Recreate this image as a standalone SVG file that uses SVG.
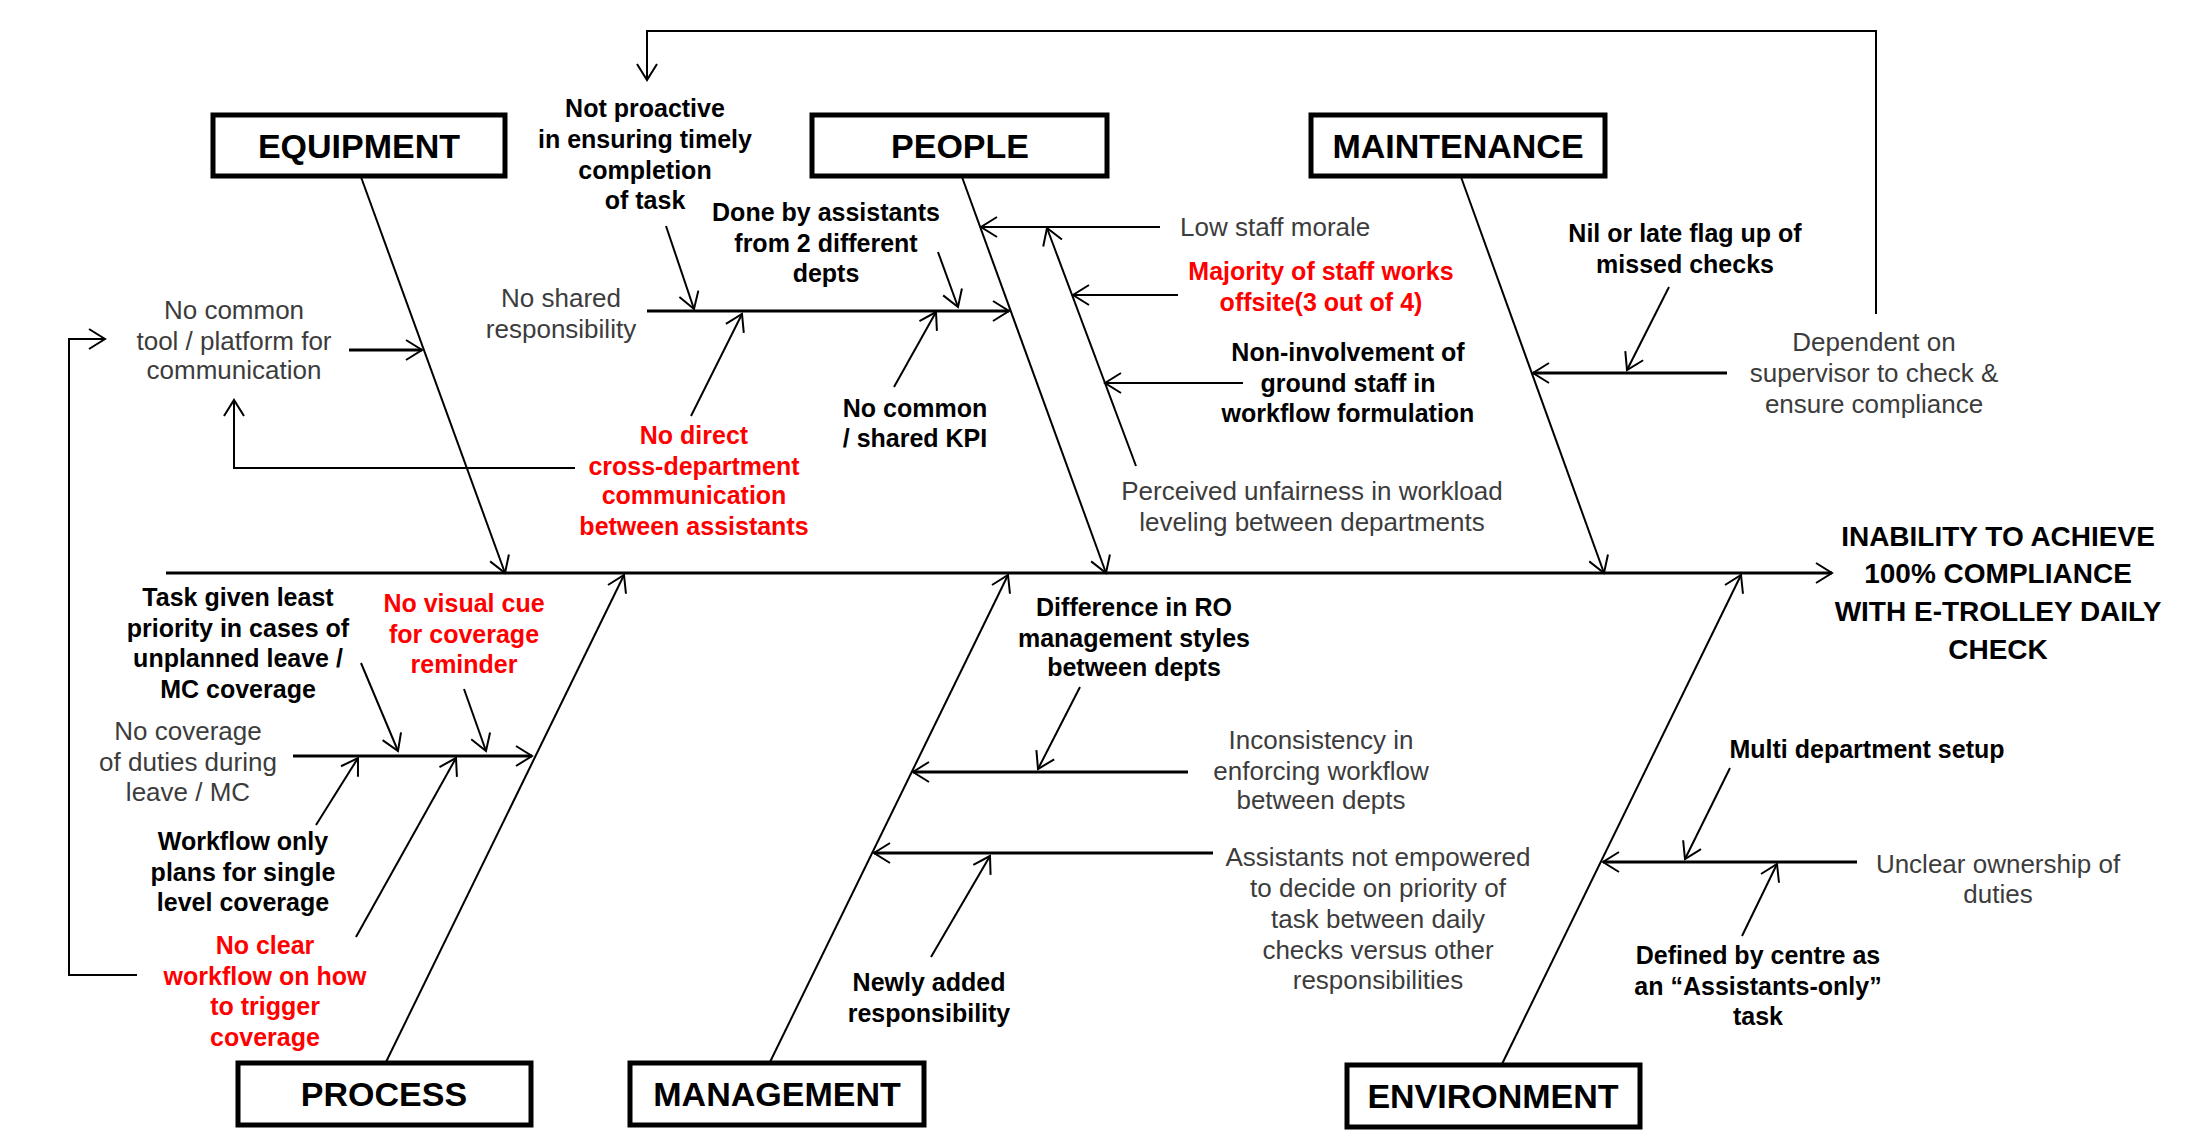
<svg xmlns="http://www.w3.org/2000/svg" width="2192" height="1131" viewBox="0 0 2192 1131">
<style>
.bx{fill:#fff;stroke:#000;stroke-width:5}
.bl{font-family:"Liberation Sans",Arial,sans-serif;font-weight:bold;font-size:34px;fill:#000;text-anchor:middle}
.b{font-family:"Liberation Sans",Arial,sans-serif;font-weight:bold;font-size:25px;fill:#000;text-anchor:middle}
.r{font-family:"Liberation Sans",Arial,sans-serif;font-weight:bold;font-size:25px;fill:#ff0000;text-anchor:middle}
.g{font-family:"Liberation Sans",Arial,sans-serif;font-size:26px;fill:#3c3c3c;text-anchor:middle}
.t{font-family:"Liberation Sans",Arial,sans-serif;font-weight:bold;font-size:28px;fill:#000;text-anchor:middle}
.ln{fill:none;stroke:#000;stroke-width:2}
.th{fill:none;stroke:#000;stroke-width:3}
</style>
<defs>
<marker id="ah" viewBox="0 0 19 22" refX="17" refY="11" markerWidth="19" markerHeight="22" markerUnits="userSpaceOnUse" orient="auto">
<path d="M1,1 L17,11 L1,21" fill="none" stroke="#000" stroke-width="2"/>
</marker>
</defs>
<rect width="2192" height="1131" fill="#fff"/>
<g id="connectors">
<path class="th" d="M166,573 H1832" marker-end="url(#ah)"/>
<path class="ln" d="M361,177 L505,573" marker-end="url(#ah)"/>
<path class="ln" d="M962,177 L1106,573" marker-end="url(#ah)"/>
<path class="ln" d="M1461,177 L1604,573" marker-end="url(#ah)"/>
<path class="ln" d="M386,1062 L624,575" marker-end="url(#ah)"/>
<path class="ln" d="M770,1062 L1008,575" marker-end="url(#ah)"/>
<path class="ln" d="M1502,1064 L1741,575" marker-end="url(#ah)"/>
<path class="th" d="M349,350 H422" marker-end="url(#ah)"/>
<path class="ln" d="M137,975 H69 V339 H105" marker-end="url(#ah)"/>
<path class="ln" d="M575,468 H234 V400" marker-end="url(#ah)"/>
<path class="th" d="M647,311 H1009" marker-end="url(#ah)"/>
<path class="ln" d="M666,226 L694,309" marker-end="url(#ah)"/>
<path class="ln" d="M938,252 L958,307" marker-end="url(#ah)"/>
<path class="ln" d="M691,416 L742,314" marker-end="url(#ah)"/>
<path class="ln" d="M894,387 L936,312" marker-end="url(#ah)"/>
<path class="ln" d="M1160,227 H981" marker-end="url(#ah)"/>
<path class="ln" d="M1136,466 L1047,228" marker-end="url(#ah)"/>
<path class="ln" d="M1178,295 H1073" marker-end="url(#ah)"/>
<path class="ln" d="M1243,383 H1105" marker-end="url(#ah)"/>
<path class="th" d="M1727,373 H1533" marker-end="url(#ah)"/>
<path class="ln" d="M1669,287 L1627,370" marker-end="url(#ah)"/>
<path class="ln" d="M1876,314 V31 H647 V80" marker-end="url(#ah)"/>
<path class="th" d="M293,756 H532" marker-end="url(#ah)"/>
<path class="ln" d="M361,663 L398,751" marker-end="url(#ah)"/>
<path class="ln" d="M464,689 L486,751" marker-end="url(#ah)"/>
<path class="ln" d="M316,825 L358,758" marker-end="url(#ah)"/>
<path class="ln" d="M356,937 L456,758" marker-end="url(#ah)"/>
<path class="th" d="M1188,772 H913" marker-end="url(#ah)"/>
<path class="ln" d="M1080,687 L1038,769" marker-end="url(#ah)"/>
<path class="th" d="M1213,853 H874" marker-end="url(#ah)"/>
<path class="ln" d="M931,957 L990,856" marker-end="url(#ah)"/>
<path class="th" d="M1857,862 H1603" marker-end="url(#ah)"/>
<path class="ln" d="M1730,768 L1685,859" marker-end="url(#ah)"/>
<path class="ln" d="M1742,936 L1777,864" marker-end="url(#ah)"/>
</g>
<g id="equipment"><rect class="bx" x="213" y="115" width="292" height="61"/><text class="bl" x="359" y="158">EQUIPMENT</text></g>
<g id="people"><rect class="bx" x="812" y="115" width="295" height="61"/><text class="bl" x="960" y="158">PEOPLE</text></g>
<g id="maintenance"><rect class="bx" x="1311" y="115" width="294" height="61"/><text class="bl" x="1458" y="158">MAINTENANCE</text></g>
<g id="process"><rect class="bx" x="238" y="1063" width="293" height="62"/><text class="bl" x="384" y="1106">PROCESS</text></g>
<g id="management"><rect class="bx" x="630" y="1063" width="294" height="62"/><text class="bl" x="777" y="1106">MANAGEMENT</text></g>
<g id="environment"><rect class="bx" x="1347" y="1065" width="293" height="62"/><text class="bl" x="1493" y="1108">ENVIRONMENT</text></g>
<g id="effect"><text class="t" x="1998" y="546">INABILITY TO ACHIEVE</text><text class="t" x="1998" y="583">100% COMPLIANCE</text><text class="t" x="1998" y="621">WITH E-TROLLEY DAILY</text><text class="t" x="1998" y="659">CHECK</text></g>
<g id="no-common-tool"><text class="g" x="234" y="319">No common</text><text class="g" x="234" y="350">tool / platform for</text><text class="g" x="234" y="379">communication</text></g>
<g id="not-proactive"><text class="b" x="645" y="117">Not proactive</text><text class="b" x="645" y="148">in ensuring timely</text><text class="b" x="645" y="179">completion</text><text class="b" x="645" y="209">of task</text></g>
<g id="done-by"><text class="b" x="826" y="221">Done by assistants</text><text class="b" x="826" y="252">from 2 different</text><text class="b" x="826" y="282">depts</text></g>
<g id="no-shared"><text class="g" x="561" y="307">No shared</text><text class="g" x="561" y="338">responsibility</text></g>
<g id="no-direct"><text class="r" x="694" y="444">No direct</text><text class="r" x="694" y="475">cross-department</text><text class="r" x="694" y="504">communication</text><text class="r" x="694" y="535">between assistants</text></g>
<g id="no-kpi"><text class="b" x="915" y="417">No common</text><text class="b" x="915" y="447">/ shared KPI</text></g>
<g id="low-morale"><text class="g" x="1180" y="236" style="text-anchor:start">Low staff morale</text></g>
<g id="majority"><text class="r" x="1321" y="280">Majority of staff works</text><text class="r" x="1321" y="311">offsite(3 out of 4)</text></g>
<g id="non-involvement"><text class="b" x="1348" y="361">Non-involvement of</text><text class="b" x="1348" y="392">ground staff in</text><text class="b" x="1348" y="422">workflow formulation</text></g>
<g id="perceived"><text class="g" x="1312" y="500">Perceived unfairness in workload</text><text class="g" x="1312" y="531">leveling between departments</text></g>
<g id="nil-late"><text class="b" x="1685" y="242">Nil or late flag up of</text><text class="b" x="1685" y="273">missed checks</text></g>
<g id="dependent"><text class="g" x="1874" y="351">Dependent on</text><text class="g" x="1874" y="382">supervisor to check &amp;</text><text class="g" x="1874" y="413">ensure compliance</text></g>
<g id="task-given"><text class="b" x="238" y="606">Task given least</text><text class="b" x="238" y="637">priority in cases of</text><text class="b" x="238" y="667">unplanned leave /</text><text class="b" x="238" y="698">MC coverage</text></g>
<g id="no-visual"><text class="r" x="464" y="612">No visual cue</text><text class="r" x="464" y="643">for coverage</text><text class="r" x="464" y="673">reminder</text></g>
<g id="no-coverage"><text class="g" x="188" y="740">No coverage</text><text class="g" x="188" y="771">of duties during</text><text class="g" x="188" y="801">leave / MC</text></g>
<g id="workflow-only"><text class="b" x="243" y="850">Workflow only</text><text class="b" x="243" y="881">plans for single</text><text class="b" x="243" y="911">level coverage</text></g>
<g id="no-clear"><text class="r" x="265" y="954">No clear</text><text class="r" x="265" y="985">workflow on how</text><text class="r" x="265" y="1015">to trigger</text><text class="r" x="265" y="1046">coverage</text></g>
<g id="difference"><text class="b" x="1134" y="616">Difference in RO</text><text class="b" x="1134" y="647">management styles</text><text class="b" x="1134" y="676">between depts</text></g>
<g id="inconsistency"><text class="g" x="1321" y="749">Inconsistency in</text><text class="g" x="1321" y="780">enforcing workflow</text><text class="g" x="1321" y="809">between depts</text></g>
<g id="not-empowered"><text class="g" x="1378" y="866">Assistants not empowered</text><text class="g" x="1378" y="897">to decide on priority of</text><text class="g" x="1378" y="928">task  between daily</text><text class="g" x="1378" y="959">checks versus other</text><text class="g" x="1378" y="989">responsibilities</text></g>
<g id="newly-added"><text class="b" x="929" y="991">Newly added</text><text class="b" x="929" y="1022">responsibility</text></g>
<g id="multi-dept"><text class="b" x="1867" y="758">Multi department setup</text></g>
<g id="unclear"><text class="g" x="1998" y="873">Unclear ownership of</text><text class="g" x="1998" y="903">duties</text></g>
<g id="defined"><text class="b" x="1758" y="964">Defined by centre as</text><text class="b" x="1758" y="995">an “Assistants-only”</text><text class="b" x="1758" y="1025">task</text></g>
</svg>
